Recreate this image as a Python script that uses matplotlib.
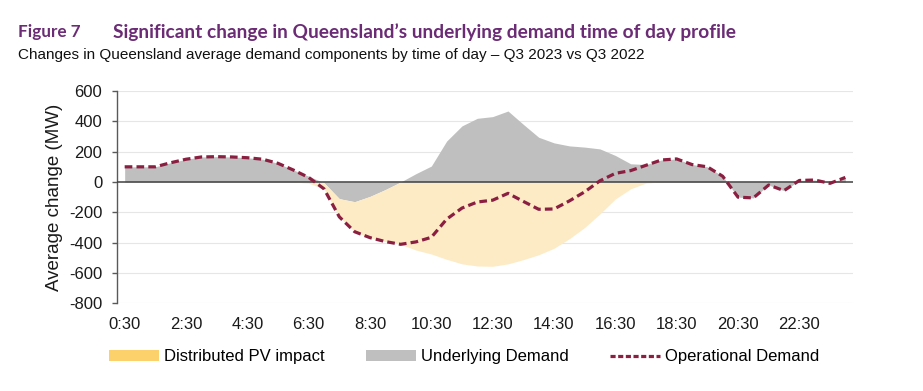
import matplotlib
matplotlib.use("Agg")
import matplotlib.pyplot as plt
from matplotlib.patches import Patch
from matplotlib.lines import Line2D
import numpy as np

# ---- data (MW change, Q3 2023 vs Q3 2022), half-hourly from 0:30 to 24:00 ----
times = ["0:30", "1:00", "1:30", "2:00", "2:30", "3:00", "3:30", "4:00", "4:30", "5:00",
         "5:30", "6:00", "6:30", "7:00", "7:30", "8:00", "8:30", "9:00", "9:30", "10:00",
         "10:30", "11:00", "11:30", "12:00", "12:30", "13:00", "13:30", "14:00", "14:30", "15:00",
         "15:30", "16:00", "16:30", "17:00", "17:30", "18:00", "18:30", "19:00", "19:30", "20:00",
         "20:30", "21:00", "21:30", "22:00", "22:30", "23:00", "23:30", "24:00"]

underlying = [100, 100, 100, 127, 150, 165, 167, 165, 160, 150,
              123, 79, 38, -5, -110, -130, -95, -50, 0, 55,
              105, 270, 370, 420, 431, 468, 380, 295, 258, 238,
              230, 218, 175, 120, 115, 145, 152, 115, 100, 38,
              -100, -105, -20, -57, 10, 13, -9, 30]

pv_impact = [0, 0, 0, 0, 0, 0, 0, 0, 0, 0,
             0, 0, -8, -40, -120, -198, -272, -343, -411, -449,
             -475, -510, -540, -554, -556, -540, -512, -480, -437, -374,
             -300, -210, -112, -45, -7, 0, 0, 0, 0, 0,
             0, 0, 0, 0, 0, 0, 0, 0]

operational = [100, 100, 100, 127, 150, 165, 167, 165, 160, 150,
               123, 79, 30, -45, -230, -328, -367, -393, -411, -395,
               -365, -245, -172, -132, -120, -75, -128, -180, -178, -125,
               -65, 8, 57, 75, 110, 145, 152, 115, 100, 38,
               -100, -105, -20, -57, 10, 13, -9, 30]

tick_labels = ["0:30", "2:30", "4:30", "6:30", "8:30", "10:30",
               "12:30", "14:30", "16:30", "18:30", "20:30", "22:30"]
y_ticks = [-800, -600, -400, -200, 0, 200, 400, 600]

# ---- styling ----
C_PV = "#FDEBC6"
C_PV_LEG = "#FCD06B"
C_UND = "#BFBFBF"
C_OP = "#8B1F41"
C_TITLE = "#6B2C75"

W, H = 923, 391
fig = plt.figure(figsize=(W / 100, H / 100), dpi=100)
fig.patch.set_facecolor("white")

ax_l, ax_r, ax_t, ax_b = 117, 853, 91, 303.3
ax = fig.add_axes([ax_l / W, 1 - ax_b / H, (ax_r - ax_l) / W, (ax_b - ax_t) / H])

x = np.arange(len(times))
und = np.array(underlying, dtype=float)
pv = np.array(pv_impact, dtype=float)
op = np.array(operational, dtype=float)

base = np.minimum(und, 0)
ax.fill_between(x, 0, und, color=C_UND, lw=0, zorder=2)
ax.fill_between(x, base, base + pv, color=C_PV, lw=0, zorder=2)

for yv in y_ticks:
    if yv != 0:
        ax.axhline(yv, color="#E6E6E6", lw=0.8, zorder=1)
ax.axhline(0, color="#404040", lw=1.1, zorder=3)

line, = ax.plot(x, op, color=C_OP, lw=2.3, zorder=4, solid_capstyle="butt")
line.set_dashes([2.4, 1.3])
line.set_dash_capstyle("butt")

ax.set_xlim(-0.5, len(times) - 0.5)
ax.set_ylim(-800, 600)
ax.set_yticks(y_ticks)
ax.set_yticklabels([str(v) for v in y_ticks])
ax.set_xticks(x[::4])
ax.set_xticklabels(tick_labels)

for s in ["top", "right", "bottom"]:
    ax.spines[s].set_visible(False)
ax.spines["left"].set_color("#595959")
ax.spines["left"].set_linewidth(1.0)
ax.tick_params(axis="y", direction="out", length=3.6, width=1.0, color="#595959",
               pad=7, labelsize=12, labelcolor="#1a1a1a")
ax.tick_params(axis="x", length=0, pad=10, labelsize=12, labelcolor="#1a1a1a")
for lab in ax.get_xticklabels() + ax.get_yticklabels():
    lab.set_fontfamily("Liberation Sans")

fig.text(55 / W, 1 - 197 / H, "Average change (MW)", rotation=90, ha="center", va="center",
         fontsize=13.5, family="Liberation Sans", color="#1a1a1a")

# titles
t1 = fig.text(18 / W, 1 - 32.5 / H, "Figure 7", ha="left", va="center", fontsize=12,
              family="Lato", fontweight="bold", color=C_TITLE)
t2 = fig.text(113 / W, 1 - 32.5 / H,
              "Significant change in Queensland\u2019s underlying demand time of day profile",
              ha="left", va="center", fontsize=12, family="Lato", fontweight="bold", color=C_TITLE)
t3 = fig.text(18 / W, 1 - 55 / H,
              "Changes in Queensland average demand components by time of day \u2013 Q3 2023 vs Q3 2022",
              ha="left", va="center", fontsize=10, family="Liberation Sans", color="#111111")

renderer = fig.canvas.get_renderer()
for t, target in [(t1, 62), (t2, 620), (t3, 627)]:
    w = t.get_window_extent(renderer).width
    t.set_fontsize(t.get_fontsize() * target / w)

handles = [Patch(facecolor=C_PV_LEG, edgecolor="none"),
           Patch(facecolor=C_UND, edgecolor="none"),
           Line2D([0], [0], color=C_OP, lw=2.3, dashes=[1.6, 0.8])]
labels = ["Distributed PV impact", "Underlying Demand", "Operational Demand"]
leg = fig.legend(handles, labels, loc="center", bbox_to_anchor=(464 / W, 1 - 357 / H),
                 ncol=3, frameon=False, handlelength=3.0, handleheight=0.6,
                 handletextpad=0.3, columnspacing=2.5,
                 prop={"family": "Liberation Sans", "size": 12})

fig.savefig("out.png", dpi=100, facecolor="white")
